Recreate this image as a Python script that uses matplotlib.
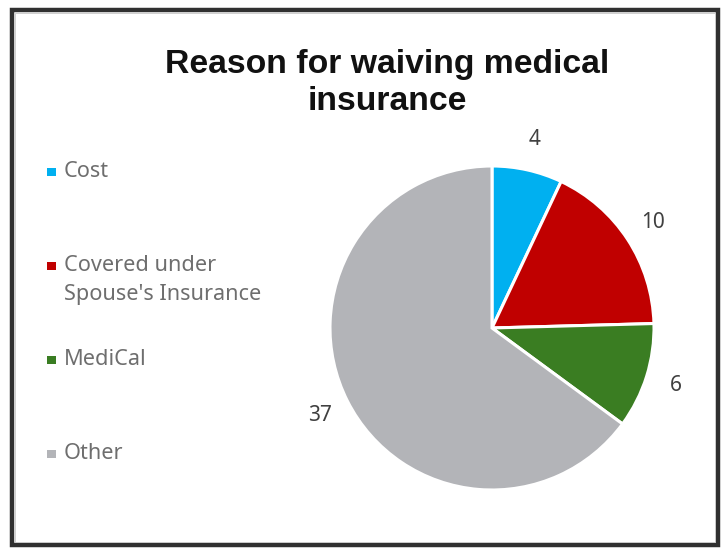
import matplotlib
matplotlib.use("Agg")
import matplotlib.pyplot as plt
from matplotlib.patches import Rectangle

# Survey responses
categories = ["Cost", "Covered under\nSpouse's Insurance", "MediCal", "Other"]
counts = [4, 10, 6, 37]
colors = ["#00B0F0", "#C00000", "#3A7D22", "#B3B4B8"]
title_lines = ["Reason for waiving medical", "insurance"]

W, H = 723, 550
fig = plt.figure(figsize=(W / 100, H / 100), dpi=100)
fig.patch.set_facecolor("white")


def fx(px):
    return px / W


def fy(py):
    return 1 - py / H


# Outer frame
fig.add_artist(Rectangle((12 / W, 5 / H), 706 / W, 535 / H, transform=fig.transFigure,
                         fill=False, edgecolor="#303030", linewidth=3.2))
fig.add_artist(Rectangle((15 / W, 8 / H), 700 / W, 529 / H, transform=fig.transFigure,
                         fill=False, edgecolor="#C8C8C8", linewidth=0.6))

# Title, two centred lines
for i, line in enumerate(title_lines):
    fig.text(fx(387), fy(73 + 37 * i), line, ha="center", va="baseline",
             fontsize=24.3, fontweight="bold", family="Liberation Sans", color="#111111")

# Pie
cx, cy, r = 492, 328, 162
ax = fig.add_axes([(cx - r) / W, (H - cy - r) / H, 2 * r / W, 2 * r / H])
wedges, texts = ax.pie(counts, colors=colors, startangle=90, counterclock=False,
                       labels=[str(v) for v in counts], labeldistance=1.19,
                       wedgeprops=dict(edgecolor="white", linewidth=2.2),
                       textprops=dict(fontsize=15, color="#404040", family="Noto Sans"))
for t in texts:
    t.set_ha("center")
    t.set_va("center")
ax.set_xlim(-1, 1)
ax.set_ylim(-1, 1)
ax.set_axis_off()

# Legend, one entry per category; marker sits beside the first line
y0, step, line_step = 177, 94, 29
for i, (cat, col) in enumerate(zip(categories, colors)):
    base = y0 + i * step
    fig.add_artist(Rectangle((fx(47), fy(base - 1)), 8.5 / W, 8.5 / H,
                             transform=fig.transFigure, facecolor=col, edgecolor="none"))
    for j, part in enumerate(cat.split("\n")):
        fig.text(fx(64), fy(base + j * line_step), part, ha="left", va="baseline",
                 fontsize=15.6, color="#6E6E6E", family="Noto Sans")

fig.savefig("out.png", dpi=100)
